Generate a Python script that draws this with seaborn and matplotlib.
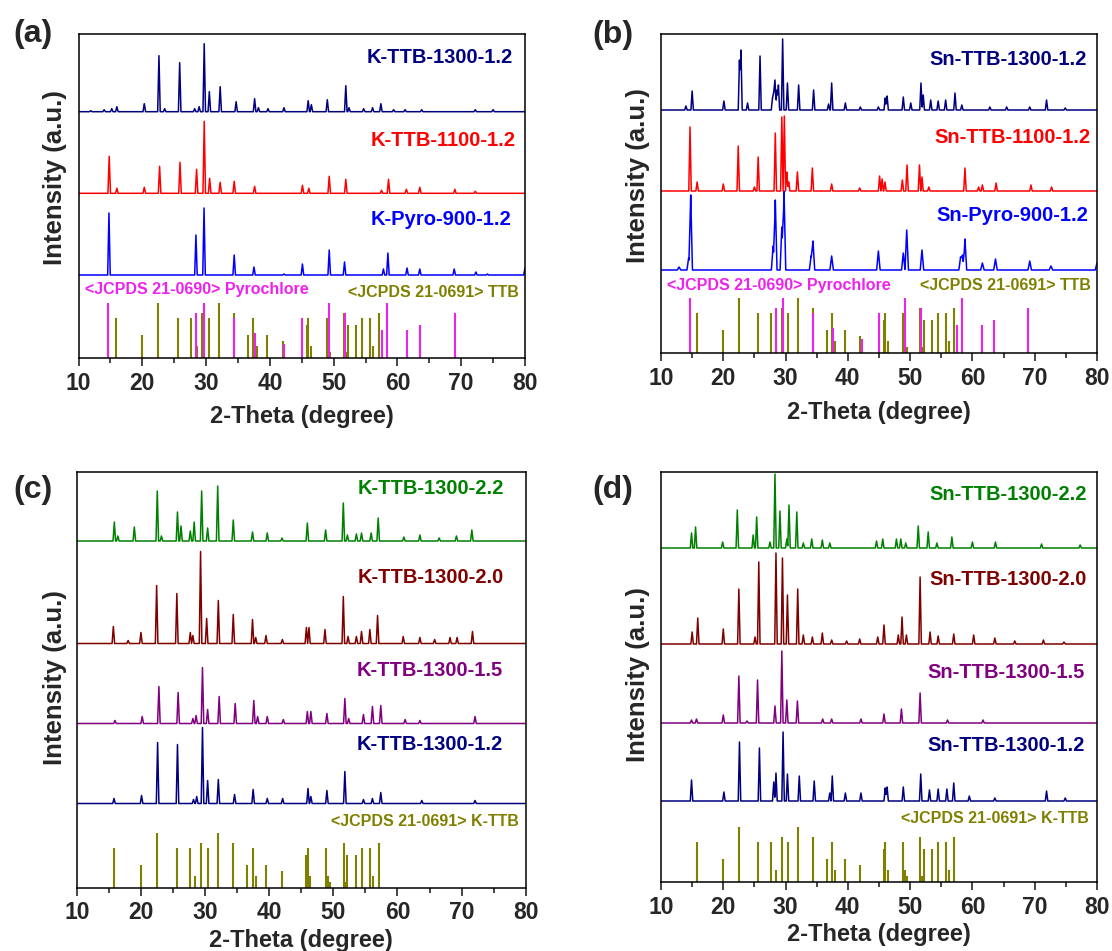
import numpy as np
import matplotlib
matplotlib.use("Agg")
import matplotlib.pyplot as plt
import seaborn as sns

sns.set_theme(style="ticks")
plt.rcParams['font.family'] = ['Liberation Sans', 'DejaVu Sans']
plt.rcParams['font.weight'] = 'bold'

# ---------------- data (2-theta in degree, intensity in a.u.) ----------------
# reference patterns
ttb_pos = [15.8, 20.0, 22.5, 25.6, 27.7, 28.5, 29.4, 30.4, 32.0, 34.4, 36.6, 37.4, 38.0, 39.5, 42.0,
           45.8, 46.0, 46.4, 48.9, 49.2, 49.5, 51.6, 51.9, 52.2, 53.5, 54.4, 55.7, 56.2, 57.1]
ttb_int = [40, 23, 55, 40, 40, 12, 45, 40, 55, 45, 23, 40, 12, 23, 17,
           33, 40, 12, 40, 12, 6, 45, 6, 33, 33, 40, 40, 12, 45]
pyro_pos = [14.6, 28.4, 29.6, 34.4, 37.6, 42.2, 45.0, 49.2, 51.7, 57.6, 58.4, 61.5, 63.5, 69.0]
pyro_int = [55, 45, 55, 40, 25, 14, 40, 55, 45, 28, 55, 28, 33, 45]

# panel (a)
ka_1300_pos = [11.9, 14.0, 15.2, 16.0, 20.3, 22.6, 23.5, 25.85, 28.2, 28.9, 29.7, 30.5, 32.2, 34.7, 37.6, 38.2,
               39.7, 42.2, 46.0, 46.5, 49.0, 51.9, 52.4, 54.7, 56.1, 57.4, 59.4, 61.2, 63.8, 72.2, 75.0]
ka_1300_int = [1, 2, 3, 5, 8, 56, 3, 49, 3, 5, 68, 20, 25, 10, 13, 4,
               3, 4, 11, 7, 12, 26, 4, 3, 4, 8, 2, 2, 2, 2, 2]
ka_1100_pos = [14.8, 16.0, 20.3, 22.7, 25.9, 28.5, 29.7, 30.55, 32.2, 34.4, 37.6, 45.1, 46.1, 49.3, 51.9,
               57.5, 58.6, 61.4, 63.5, 69.0, 72.2]
ka_1100_int = [37, 5, 6, 27, 31, 24, 72, 15, 11, 12, 7, 8, 5, 17, 14,
               3, 14, 4, 6, 4, 2]
ka_pyro_pos = [14.76, 28.4, 29.67, 34.4, 37.5, 42.2, 45.1, 49.3, 51.7, 57.8, 58.5, 61.5, 63.5, 68.9, 72.3, 74.1, 80.0]
ka_pyro_int = [62, 40, 67, 20, 8, 1, 11, 25, 13, 6, 22, 7, 6, 6, 3, 1, 7]

# panel (b)
sb_1300_pos = [14.0, 15.0, 20.1, 22.6, 22.84, 23.9, 25.9, 27.9, 28.1, 28.3, 28.6, 28.85, 29.53, 30.3, 32.1,
               34.5, 36.9, 37.4, 39.6, 42.0, 44.9, 46.0, 46.3, 48.9, 50.1, 51.74, 52.1, 53.3, 54.5, 55.7,
               57.2, 58.3, 62.8, 65.5, 69.2, 71.9, 74.9]
sb_1300_int = [4, 19, 9, 50, 60, 7, 54, 12, 18, 30, 20, 25, 71, 27, 25,
               20, 6, 27, 7, 3, 3, 12, 14, 13, 7, 27, 15, 10, 9, 10,
               17, 5, 3, 3, 3, 10, 2]
sb_1100_pos = [14.66, 15.8, 20.0, 22.4, 25.0, 25.6, 28.35, 29.4, 29.8, 30.2, 30.5, 31.9, 34.3, 37.4, 41.9,
               45.1, 45.5, 45.96, 48.75, 49.5, 51.5, 51.9, 53.0, 58.8, 61.0, 61.6, 63.8, 69.4, 72.7]
sb_1100_int = [64, 9, 7, 45, 4, 34, 58, 74, 75, 19, 9, 19, 23, 7, 3,
               15, 12, 9, 11, 26, 26, 14, 4, 23, 4, 6, 8, 6, 4]
sb_pyro_pos = [12.9, 14.44, 14.77, 28.0, 28.35, 29.4, 29.75, 34.1, 34.4, 37.4, 44.9, 48.9, 49.45, 51.9,
               58.1, 58.4, 58.8, 61.6, 63.7, 69.2, 72.6, 80.0]
sb_pyro_int = [3, 12, 75, 24, 70, 43, 79, 14, 29, 14, 19, 17, 40, 20,
               13, 15, 31, 7, 11, 9, 4, 7]

# panel (c)
kc_22_pos = [15.85, 16.4, 18.97, 22.55, 23.2, 25.7, 26.25, 27.7, 28.3, 29.47, 30.4, 31.97, 34.4, 37.4, 39.7,
             42.0, 45.95, 48.8, 51.56, 52.2, 53.6, 54.4, 55.9, 57.0, 61.0, 63.5, 66.5, 69.2, 71.6]
kc_22_int = [19, 5, 14, 50, 5, 29, 15, 10, 19, 50, 13, 55, 21, 9, 8,
             3, 18, 11, 38, 6, 7, 8, 8, 23, 4, 6, 3, 5, 11]
kc_20_pos = [15.7, 18.0, 20.0, 22.45, 25.6, 27.7, 28.1, 29.3, 30.25, 32.07, 34.4, 37.4, 37.9, 39.5, 42.05,
             45.8, 46.2, 48.7, 51.56, 52.3, 53.6, 54.4, 55.7, 56.9, 60.9, 63.5, 65.8, 68.2, 69.3, 71.7]
kc_20_int = [17, 3, 11, 58, 50, 11, 8, 92, 25, 43, 29, 24, 6, 8, 4,
             16, 16, 14, 47, 7, 7, 12, 14, 28, 7, 6, 4, 6, 6, 12]
kc_15_pos = [15.95, 20.2, 22.8, 25.8, 28.1, 28.6, 29.6, 30.4, 32.2, 34.7, 37.6, 38.2, 39.7, 42.2, 45.95,
             46.5, 49.0, 51.8, 52.4, 54.7, 56.1, 57.4, 61.2, 63.5, 72.1]
kc_15_int = [3, 7, 37, 31, 5, 8, 56, 14, 27, 20, 23, 7, 7, 4, 12,
             12, 10, 25, 5, 9, 17, 18, 4, 3, 7]
kc_12_pos = [15.8, 20.1, 22.6, 25.7, 28.2, 28.7, 29.6, 30.4, 32.07, 34.6, 37.5, 39.7, 42.1, 46.05, 46.5,
             49.0, 51.8, 54.7, 56.1, 57.4, 63.8, 72.1]
kc_12_int = [5, 8, 61, 59, 4, 7, 76, 23, 24, 9, 14, 5, 5, 15, 7,
             13, 32, 4, 5, 11, 3, 3]

# panel (d)
sd_22_pos = [14.9, 15.55, 19.9, 22.25, 24.8, 25.36, 27.5, 28.3, 29.1, 30.2, 30.55, 31.8, 32.85, 34.2, 35.9,
             37.1, 44.6, 45.6, 47.8, 48.5, 49.3, 51.3, 52.9, 54.3, 56.7, 60.0, 63.7, 71.1, 77.3]
sd_22_int = [15, 21, 6, 38, 13, 31, 6, 74, 37, 9, 43, 36, 5, 9, 8,
             5, 7, 9, 9, 9, 5, 22, 16, 5, 11, 6, 6, 4, 3]
sd_20_pos = [15.0, 15.9, 20.0, 22.5, 25.1, 25.7, 28.46, 29.5, 30.3, 31.95, 32.85, 34.3, 35.9, 37.4, 39.8,
             41.9, 44.8, 45.8, 48.1, 48.7, 49.4, 51.6, 53.2, 54.5, 57.0, 60.2, 63.6, 66.8, 71.4, 74.7]
sd_20_int = [12, 26, 15, 55, 7, 82, 91, 86, 49, 55, 9, 7, 11, 4, 3,
             5, 7, 19, 9, 27, 9, 67, 12, 8, 10, 9, 6, 3, 4, 2]
sd_15_pos = [14.9, 15.7, 20.0, 22.5, 23.8, 25.5, 28.3, 29.4, 30.2, 31.9, 35.96, 37.4, 42.1, 45.8, 48.6,
             51.6, 56.0, 61.7]
sd_15_int = [3, 4, 8, 47, 2, 43, 17, 72, 23, 22, 4, 4, 4, 9, 14,
             30, 3, 3]
sd_12_pos = [14.9, 20.1, 22.6, 25.8, 28.1, 28.46, 29.6, 30.3, 32.2, 34.6, 37.1, 37.5, 39.6, 42.1, 46.0,
             46.3, 48.9, 51.7, 53.1, 54.5, 55.9, 57.0, 59.5, 63.6, 71.9, 74.9]
sd_12_int = [21, 9, 59, 53, 19, 28, 69, 27, 25, 20, 8, 25, 8, 8, 13,
             14, 14, 27, 11, 12, 12, 18, 5, 3, 10, 3]

x_ticks = [10, 20, 30, 40, 50, 60, 70, 80]

# ---------------- styles ----------------
NAVY, RED, BLUE = '#000080', '#FF0000', '#0000FF'
GREEN, DRED, PURP = '#008000', '#800000', '#800080'
MAG, OLIVE = '#EE22EE', '#808000'


def profile(pos, inten, hw=0.2):
    pos = np.asarray(pos, float)
    inten = np.asarray(inten, float)
    xs = np.concatenate([[10.0, 80.0], pos, pos - hw, pos + hw])
    xs = np.unique(np.clip(xs, 10, 80))
    ys = np.zeros_like(xs)
    for p, h in zip(pos, inten):
        ys = np.maximum(ys, h * np.clip(1 - np.abs(xs - p) / hw, 0, None))
    return xs, ys


def draw_pattern(ax, pos, inten, offset, color, hw=0.2):
    xs, ys = profile(pos, inten, hw)
    sns.lineplot(x=xs, y=ys + offset, ax=ax, color=color, lw=1.1,
                 estimator=None, sort=True, legend=False)


def draw_refs(ax, with_pyro):
    ax.vlines(ttb_pos, 0, ttb_int, color=OLIVE, lw=1.5)
    if with_pyro:
        ax.vlines(pyro_pos, 0, pyro_int, color=MAG, lw=1.5)


def style_axis(ax, ymax):
    ax.set_xlim(10, 80)
    ax.set_ylim(0, ymax)
    ax.set_xticks(x_ticks)
    ax.set_xticks([15, 25, 35, 45, 55, 65, 75], minor=True)
    ax.set_yticks([])
    ax.tick_params(axis='x', which='major', direction='out', length=6, width=1.2,
                   labelsize=16.5, pad=4)
    ax.tick_params(axis='x', which='minor', direction='out', length=3.5, width=1.2)
    for lab in ax.get_xticklabels():
        lab.set_fontweight('bold')
    for s in ax.spines.values():
        s.set_visible(True)
        s.set_linewidth(1.1)
        s.set_color('black')
    ax.set_xlabel('')
    ax.set_ylabel('')


W, H = 1112, 951
fig = plt.figure(figsize=(W / 100, H / 100), dpi=100)


def add_axes_px(left, right, top, bottom):
    return fig.add_axes([left / W, 1 - bottom / H, (right - left) / W, (bottom - top) / H])


axA = add_axes_px(78.6, 525, 34, 358)
axB = add_axes_px(661, 1097, 33.5, 353)
axC = add_axes_px(76.8, 525.7, 472, 887.5)
axD = add_axes_px(661, 1097, 472, 882)

lab_kw = dict(fontsize=14.5, fontweight='bold', ha='right', va='center')
ref_kw = dict(fontsize=11.5, fontweight='bold', va='center')

# panel (a)
draw_refs(axA, True)
draw_pattern(axA, ka_pyro_pos, ka_pyro_int, 83, BLUE)
draw_pattern(axA, ka_1100_pos, ka_1100_int, 164.7, RED)
draw_pattern(axA, ka_1300_pos, ka_1300_int, 246.3, NAVY)
style_axis(axA, 324)
axA.text(0.973, 0.926, 'K-TTB-1300-1.2', color=NAVY, transform=axA.transAxes, **lab_kw)
axA.text(0.978, 0.670, 'K-TTB-1100-1.2', color=RED, transform=axA.transAxes, **lab_kw)
axA.text(0.969, 0.429, 'K-Pyro-900-1.2', color=BLUE, transform=axA.transAxes, **lab_kw)
axA.text(0.014, 0.210, '<JCPDS 21-0690> Pyrochlore', color=MAG, ha='left', transform=axA.transAxes, **ref_kw)
axA.text(0.987, 0.201, '<JCPDS 21-0691> TTB', color=OLIVE, ha='right', transform=axA.transAxes, **ref_kw)

# panel (b)
draw_refs(axB, True)
draw_pattern(axB, sb_pyro_pos, sb_pyro_int, 83, BLUE, hw=0.28)
draw_pattern(axB, sb_1100_pos, sb_1100_int, 162, RED)
draw_pattern(axB, sb_1300_pos, sb_1300_int, 243, NAVY)
style_axis(axB, 319.5)
axB.text(0.977, 0.920, 'Sn-TTB-1300-1.2', color=NAVY, transform=axB.transAxes, **lab_kw)
axB.text(0.986, 0.673, 'Sn-TTB-1100-1.2', color=RED, transform=axB.transAxes, **lab_kw)
axB.text(0.979, 0.429, 'Sn-Pyro-900-1.2', color=BLUE, transform=axB.transAxes, **lab_kw)
axB.text(0.014, 0.210, '<JCPDS 21-0690> Pyrochlore', color=MAG, ha='left', transform=axB.transAxes, **ref_kw)
axB.text(0.986, 0.210, '<JCPDS 21-0691> TTB', color=OLIVE, ha='right', transform=axB.transAxes, **ref_kw)

# panel (c)
draw_refs(axC, False)
draw_pattern(axC, kc_12_pos, kc_12_int, 84, NAVY)
draw_pattern(axC, kc_15_pos, kc_15_int, 164, PURP)
draw_pattern(axC, kc_20_pos, kc_20_int, 244, DRED)
draw_pattern(axC, kc_22_pos, kc_22_int, 346.5, GREEN)
style_axis(axC, 415.5)
axC.text(0.952, 0.961, 'K-TTB-1300-2.2', color=GREEN, transform=axC.transAxes, **lab_kw)
axC.text(0.952, 0.747, 'K-TTB-1300-2.0', color=DRED, transform=axC.transAxes, **lab_kw)
axC.text(0.949, 0.523, 'K-TTB-1300-1.5', color=PURP, transform=axC.transAxes, **lab_kw)
axC.text(0.949, 0.343, 'K-TTB-1300-1.2', color=NAVY, transform=axC.transAxes, **lab_kw)
axC.text(0.985, 0.160, '<JCPDS 21-0691> K-TTB', color=OLIVE, ha='right', transform=axC.transAxes, **ref_kw)

# panel (d)
draw_refs(axD, False)
draw_pattern(axD, sd_12_pos, sd_12_int, 81, NAVY)
draw_pattern(axD, sd_15_pos, sd_15_int, 159, PURP)
draw_pattern(axD, sd_20_pos, sd_20_int, 238, DRED)
draw_pattern(axD, sd_22_pos, sd_22_int, 334, GREEN)
style_axis(axD, 410)
axD.text(0.977, 0.944, 'Sn-TTB-1300-2.2', color=GREEN, transform=axD.transAxes, **lab_kw)
axD.text(0.977, 0.737, 'Sn-TTB-1300-2.0', color=DRED, transform=axD.transAxes, **lab_kw)
axD.text(0.972, 0.512, 'Sn-TTB-1300-1.5', color=PURP, transform=axD.transAxes, **lab_kw)
axD.text(0.972, 0.334, 'Sn-TTB-1300-1.2', color=NAVY, transform=axD.transAxes, **lab_kw)
axD.text(0.982, 0.156, '<JCPDS 21-0691> K-TTB', color=OLIVE, ha='right', transform=axD.transAxes, **ref_kw)

# axis titles and panel letters (figure pixel positions)
def ftext(x, y, s, **kw):
    fig.text(x / W, 1 - y / H, s, **kw)

for (xc, yc) in [(302, 417), (879, 413), (301, 940), (879, 934)]:
    ftext(xc, yc, '2-Theta (degree)', fontsize=17, fontweight='bold', ha='center', va='center')
for (xc, yc) in [(55, 178), (638, 176), (55, 678), (638, 675)]:
    ftext(xc, yc, 'Intensity (a.u.)', fontsize=18.5, fontweight='bold', ha='center', va='center', rotation=90)
for (xc, yc, s) in [(33, 34, '(a)'), (613, 35, '(b)'), (33, 490, '(c)'), (613, 490, '(d)')]:
    ftext(xc, yc, s, fontsize=23, fontweight='bold', ha='center', va='center')

fig.savefig('out.png', dpi=100)
